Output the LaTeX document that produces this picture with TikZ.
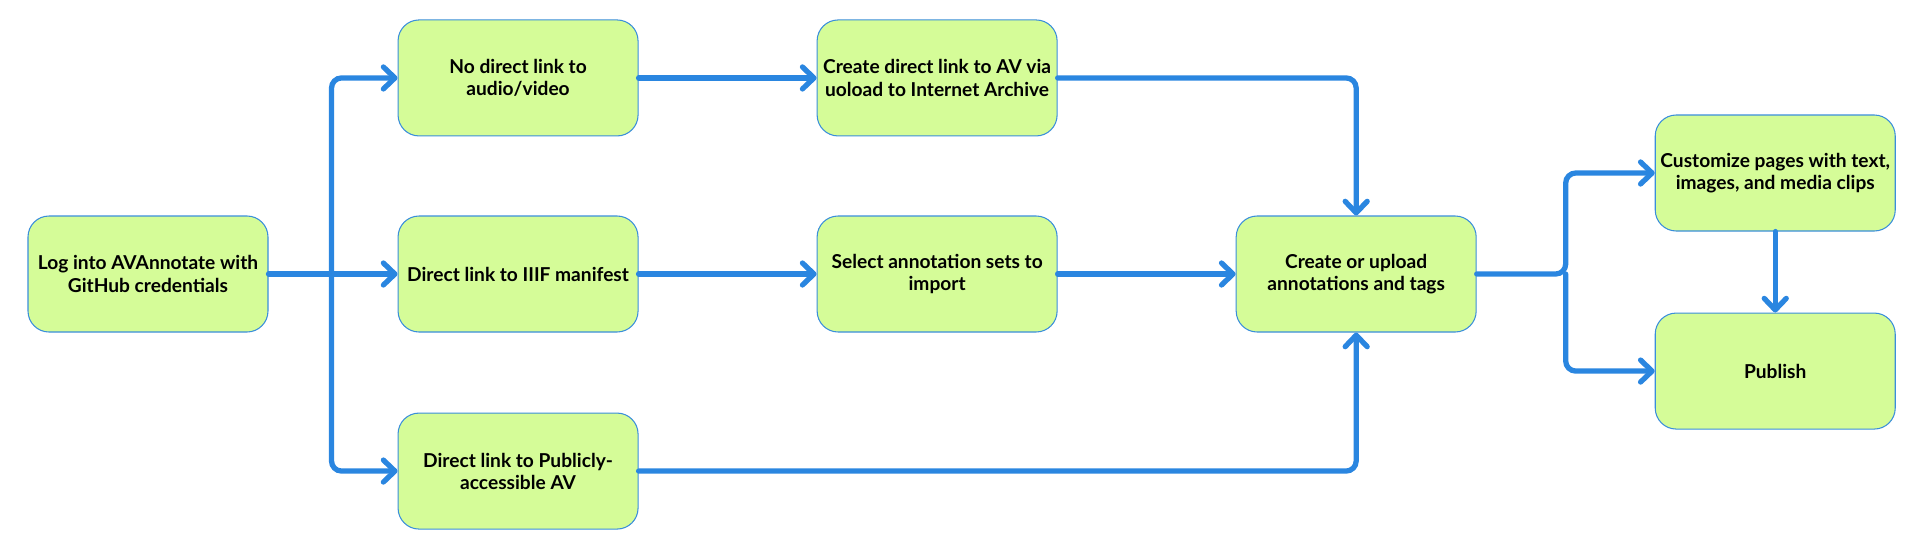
\documentclass[tikz,border=0pt]{standalone}
\usepackage{fontspec}
\setmainfont{Lato}
\usetikzlibrary{positioning,arrows.meta}
\definecolor{boxgreen}{HTML}{D5FC98}
\definecolor{boxedge}{HTML}{3A8EDB}
\definecolor{linkblue}{HTML}{2A86E0}

\begin{document}
\begin{tikzpicture}[
    task/.style={rectangle, draw=boxedge, fill=boxgreen, line width=0.6pt, minimum width=4.8cm, minimum height=2.32cm, inner sep=0pt, align=center, rounded corners=0.42cm, font=\bfseries\fontsize{10.9}{12.6}\selectfont},
    flow/.style={-{Straight Barb[length=2.3mm,width=4.4mm,round]}, line width=3pt, line cap=round, linkblue, rounded corners=0.2cm}
]
    \useasboundingbox (0,0) rectangle (38.4,-10.88);
    \node[task] (login) at (2.96,-5.48) {Log into AVAnnotate with\\GitHub credentials};
    \node[task, right=2.58cm of login] (iiif) {Direct link to IIIF manifest};
    \node[task, above=1.58cm of iiif] (nolink) {No direct link to\\audio/video};
    \node[task, below=1.6cm of iiif] (public) {Direct link to Publicly-\\accessible AV};
    \node[task, right=3.56cm of iiif] (select) {Select annotation sets to\\import};
    \node[task, above=1.58cm of select] (archive) {Create direct link to AV via\\uoload to Internet Archive};
    \node[task, right=3.56cm of select] (annotate) {Create or upload\\annotations and tags};
    \node[task, right=3.56cm of annotate, yshift=2.02cm] (custom) {Customize pages with text,\\images, and media clips};
    \node[task, below=1.62cm of custom] (publish) {Publish};

    \coordinate[right=1.26cm of login] (lsplit);
    \coordinate[right=1.78cm of annotate] (rsplit);

    \draw[flow] (login) -- (iiif);
    \draw[flow] (lsplit) |- (nolink);
    \draw[flow] (lsplit) |- (public);
    \draw[flow] (nolink) -- (archive);
    \draw[flow] (archive) -| (annotate);
    \draw[flow] (iiif) -- (select);
    \draw[flow] (select) -- (annotate);
    \draw[flow] (public) -| (annotate);
    \draw[flow] (annotate) -- (rsplit) |- (custom);
    \draw[flow] (rsplit) |- (publish);
    \draw[flow] (custom) -- (publish);
\end{tikzpicture}
\end{document}
